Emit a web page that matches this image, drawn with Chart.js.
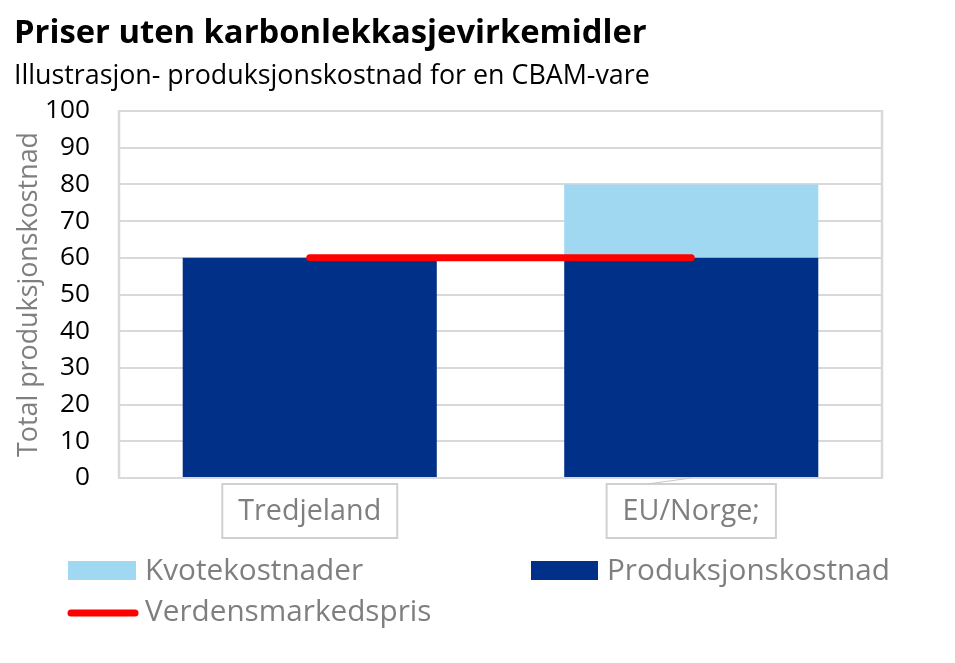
<!DOCTYPE html>
<html>
<head>
<meta charset="utf-8">
<script src="https://cdn.jsdelivr.net/npm/chart.js@4.4.1/dist/chart.umd.min.js"></script>
<style>
  html, body { margin: 0; padding: 0; background: #ffffff; }
  #wrap { width: 955px; height: 663px; position: relative; }
</style>
</head>
<body>
<div id="wrap"><canvas id="c" width="955" height="663"></canvas></div>
<script>
// ---- data ----
const categories = ['Tredjeland', 'EU/Norge;'];
const produksjonskostnad = [60, 60];
const kvotekostnader = [null, 20];
const verdensmarkedspris = [60, 60];
const yTickValues = [0, 10, 20, 30, 40, 50, 60, 70, 80, 90, 100];

const titleText = 'Priser uten karbonlekkasjevirkemidler';
const subtitleText = 'Illustrasjon- produksjonskostnad for en CBAM-vare';
const yTitleText = 'Total produksjonskostnad';
const legendLabels = ['Kvotekostnader', 'Produksjonskostnad', 'Verdensmarkedspris'];

// ---- styling ----
const FAMILY = '"Open Sans", "Noto Sans", sans-serif';
const DARK = '#003087';
const LIGHT = '#a0d8f1';
const RED = '#ff0000';
const GRID = '#d9d9d9';
const GREY = '#7f7f7f';

const mctx = document.createElement('canvas').getContext('2d');
function fitSize(text, weight, target) {
  mctx.font = weight + ' 100px ' + FAMILY;
  return 100 * target / mctx.measureText(text).width;
}
const titleSize = fitSize(titleText, 'bold', 633);
const subtitleSize = fitSize(subtitleText, 'normal', 636);
const tickSize = fitSize('100', 'normal', 45);
const yTitleSize = fitSize(yTitleText, 'normal', 325);
const xTickSize = fitSize('Tredjeland', 'normal', 143);
const legendSize = fitSize('Produksjonskostnad', 'normal', 283);

const decorPlugin = {
  id: 'decor',
  beforeDatasetsDraw(chart) {
    const ctx = chart.ctx, a = chart.chartArea;
    ctx.save();
    ctx.strokeStyle = GRID;
    ctx.lineWidth = 2.5;
    ctx.beginPath();
    ctx.moveTo(a.left, a.top - 1); ctx.lineTo(a.left, a.bottom + 1);
    ctx.moveTo(a.right, a.top - 1); ctx.lineTo(a.right, a.bottom + 1);
    ctx.stroke();
    ctx.restore();
  },
  afterDraw(chart) {
    const ctx = chart.ctx, a = chart.chartArea;
    ctx.save();
    // title & subtitle
    ctx.fillStyle = '#000000';
    ctx.textAlign = 'left';
    ctx.textBaseline = 'alphabetic';
    ctx.font = 'bold ' + titleSize + 'px ' + FAMILY;
    ctx.fillText(titleText, 14, 43);
    ctx.font = 'normal ' + subtitleSize + 'px ' + FAMILY;
    ctx.fillText(subtitleText, 14, 84);

    // boxes around category labels
    const xs = chart.scales.x;
    ctx.font = 'normal ' + xTickSize + 'px ' + FAMILY;
    ctx.strokeStyle = '#d0d0d0';
    ctx.lineWidth = 2;
    categories.forEach((c, i) => {
      const cx = xs.getPixelForValue(i);
      const w = ctx.measureText(c).width + 32;
      const h = 54;
      const top = 484;
      ctx.strokeRect(cx - w / 2, top, w, h);
      if (i === 1) {
        ctx.beginPath();
        ctx.lineWidth = 1;
        ctx.strokeStyle = '#c8c8c8';
        ctx.moveTo(cx - 44, top);
        ctx.lineTo(cx, a.bottom);
        ctx.stroke();
      }
    });

    // legend
    ctx.font = 'normal ' + legendSize + 'px ' + FAMILY;
    ctx.textBaseline = 'middle';
    ctx.fillStyle = LIGHT;
    ctx.fillRect(68, 561, 68, 19);
    ctx.fillStyle = DARK;
    ctx.fillRect(531, 561, 67, 19);
    ctx.strokeStyle = RED;
    ctx.lineWidth = 7;
    ctx.lineCap = 'round';
    ctx.beginPath();
    ctx.moveTo(71, 613); ctx.lineTo(135, 613);
    ctx.stroke();
    ctx.fillStyle = GREY;
    ctx.fillText(legendLabels[0], 145, 572);
    ctx.fillText(legendLabels[1], 607, 572);
    ctx.fillText(legendLabels[2], 145, 613);
    ctx.restore();
  }
};

new Chart(document.getElementById('c'), {
  data: {
    labels: categories,
    datasets: [
      {
        type: 'bar', label: legendLabels[1], data: produksjonskostnad,
        backgroundColor: DARK, borderWidth: 0, stack: 'bars', order: 1,
        categoryPercentage: 1, barPercentage: 0.666
      },
      {
        type: 'bar', label: legendLabels[0], data: kvotekostnader,
        backgroundColor: LIGHT, borderWidth: 0, stack: 'bars', order: 1,
        categoryPercentage: 1, barPercentage: 0.666
      },
      {
        type: 'line', label: legendLabels[2], data: verdensmarkedspris,
        borderColor: RED, borderWidth: 7, borderCapStyle: 'round',
        pointRadius: 0, fill: false, stack: 'line', order: 0
      }
    ]
  },
  options: {
    responsive: false,
    animation: false,
    layout: { padding: { top: 111, left: 10, right: 73, bottom: 125 } },
    plugins: {
      legend: { display: false },
      title: { display: false },
      tooltip: { enabled: false }
    },
    scales: {
      x: {
        stacked: true,
        offset: true,
        grid: { display: false, drawTicks: false },
        border: { display: false },
        ticks: {
          color: GREY,
          padding: 17,
          font: { family: FAMILY, size: xTickSize },
          maxRotation: 0
        },
        afterFit(s) { s.height = 60; }
      },
      y: {
        stacked: true,
        min: 0, max: 100,
        afterBuildTicks(s) { s.ticks = yTickValues.map(v => ({ value: v })); },
        grid: { color: GRID, lineWidth: 2, drawTicks: false },
        border: { display: false },
        ticks: {
          color: '#000000',
          padding: 29,
          font: { family: FAMILY, size: tickSize }
        },
        title: {
          display: true,
          text: yTitleText,
          color: GREY,
          padding: { top: 3, bottom: 0 },
          font: { family: FAMILY, size: yTitleSize }
        },
        afterFit(s) { s.width = 109; }
      }
    }
  },
  plugins: [decorPlugin]
});
</script>
</body>
</html>
